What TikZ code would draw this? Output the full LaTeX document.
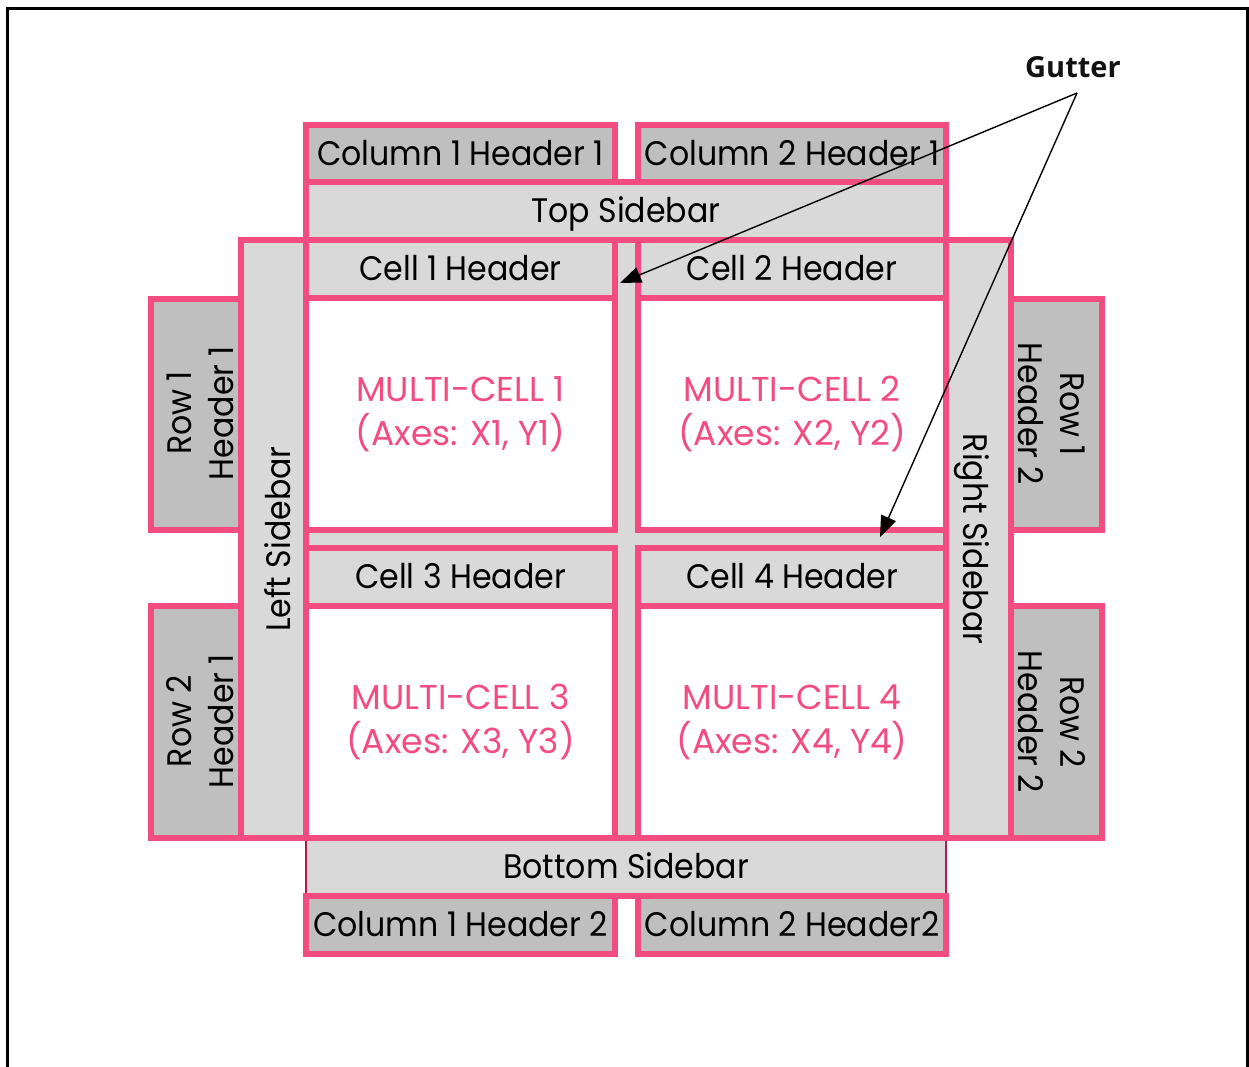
\documentclass[tikz,border=0pt]{standalone}
\usepackage{fontspec}
\setmainfont{Poppins}[FakeStretch=0.93]
\newfontfamily\multifont{Poppins}
\newfontfamily\gutterfont{Open Sans}
\usetikzlibrary{arrows.meta}
\definecolor{pinkb}{RGB}{242,76,128}
\definecolor{hdrgray}{RGB}{191,191,191}
\definecolor{sidegray}{RGB}{217,217,217}
\definecolor{crimsonb}{RGB}{192,20,80}
\tikzset{
  box/.style={draw=pinkb, line width=6.5pt, inner sep=0pt, outer sep=0pt, anchor=center,
    align=center, font=\fontsize{34}{42}\selectfont},
  oneline/.style={text height=23.8pt, text depth=0pt},
  hdrbox/.style={box, fill=hdrgray},
  sidebox/.style={box, fill=sidegray},
  multibox/.style={box, fill=white, text=pinkb, font=\multifont\fontsize{34.5}{44}\selectfont},
  rowtext/.style={inner sep=0pt, align=center, font=\fontsize{34}{42}\selectfont},
  pinkline/.style={draw=pinkb, line width=6.5pt},
  gutterarrow/.style={draw=black, line width=1.4pt, -{Triangle[length=21pt,width=16pt]}},
}
\begin{document}
\begin{tikzpicture}[x=1pt, y=-1pt]
\useasboundingbox (0,0) rectangle (1249,1066);
% outer frame (open at bottom)
\draw[black, line width=3pt] (7.5,1075) -- (7.5,8.7) -- (1247.3,8.7) -- (1247.3,1075);
% gutter background
\fill[sidegray] (306,240) rectangle (946,838);
% sidebars
\node[sidebox, oneline, minimum width=640pt, minimum height=58pt] (topsb) at (626,211) {Top Sidebar};
\node[sidebox, rotate=90, minimum width=598pt, minimum height=65pt] (leftsb) at (273.5,539) {};
\node[rowtext, rotate=90, oneline] (leftsbt) at (279,539) {Left Sidebar};
\node[sidebox, rotate=-90, minimum width=598pt, minimum height=65pt] (rightsb) at (978.5,539) {};
\node[rowtext, rotate=-90, oneline] (rightsbt) at (975,539) {Right Sidebar};
\node[sidebox, oneline, draw=crimsonb, line width=2.5pt, minimum width=640pt, minimum height=58pt] (botsb) at (626,867) {Bottom Sidebar};
\draw[pinkline] (botsb.north west) -- (botsb.north east);
\draw[pinkline] (botsb.south west) -- (botsb.south east);
% cell headers
\node[sidebox, oneline, minimum width=309pt, minimum height=58pt] (c1hd) at (460.5,269) {Cell 1 Header};
\node[sidebox, oneline, minimum width=308pt, minimum height=58pt] (c2hd) at (792,269) {Cell 2 Header};
\node[sidebox, oneline, minimum width=309pt, minimum height=58pt] (c3hd) at (460.5,577) {Cell 3 Header};
\node[sidebox, oneline, minimum width=308pt, minimum height=58pt] (c4hd) at (792,577) {Cell 4 Header};
% multi-cells
\node[multibox, minimum width=309pt, minimum height=232pt] (mc1) at (460.5,414) {MULTI-CELL 1\\(Axes: X1, Y1)};
\node[multibox, minimum width=308pt, minimum height=232pt] (mc2) at (792,414) {MULTI-CELL 2\\(Axes: X2, Y2)};
\node[multibox, minimum width=309pt, minimum height=232pt] (mc3) at (460.5,722) {MULTI-CELL 3\\(Axes: X3, Y3)};
\node[multibox, minimum width=308pt, minimum height=232pt] (mc4) at (792,722) {MULTI-CELL 4\\(Axes: X4, Y4)};
% column headers
\node[hdrbox, oneline, minimum width=309pt, minimum height=57pt] (col1h1) at (460.5,153.5) {Column 1 Header 1};
\node[hdrbox, oneline, minimum width=308pt, minimum height=57pt] (col2h1) at (792,153.5) {Column 2 Header 1};
\node[hdrbox, oneline, minimum width=309pt, minimum height=58pt] (col1h2) at (460.5,925) {Column 1 Header 2};
\node[hdrbox, oneline, minimum width=308pt, minimum height=58pt] (col2h2) at (792,925) {Column 2 Header2};
% row headers
\node[hdrbox, rotate=90, minimum width=231pt, minimum height=90pt] (row1h1) at (196,414.5) {};
\node[rowtext, rotate=90] (row1h1t) at (200,413) {Row 1\\Header 1};
\node[hdrbox, rotate=90, minimum width=232pt, minimum height=90pt] (row2h1) at (196,722) {};
\node[rowtext, rotate=90] (row2h1t) at (200,721) {Row 2\\Header 1};
\node[hdrbox, rotate=-90, minimum width=231pt, minimum height=91pt] (row1h2) at (1056.5,414.5) {};
\node[rowtext, rotate=-90] (row1h2t) at (1051.5,414) {Row 1\\Header 2};
\node[hdrbox, rotate=-90, minimum width=232pt, minimum height=91pt] (row2h2) at (1056.5,722) {};
\node[rowtext, rotate=-90] (row2h2t) at (1051.5,722) {Row 2\\Header 2};
% gutter callout
\node[font=\gutterfont\bfseries\fontsize{29}{34}\selectfont, text=black!93] (gutter) at (1073,67) {Gutter};
\coordinate (gsrc) at (1077,93);
\coordinate (gtip1) at (620,283);
\coordinate (gtip2) at (880,537);
\draw[gutterarrow] (gsrc) -- (gtip1);
\draw[gutterarrow] (gsrc) -- (gtip2);
\end{tikzpicture}
\end{document}
